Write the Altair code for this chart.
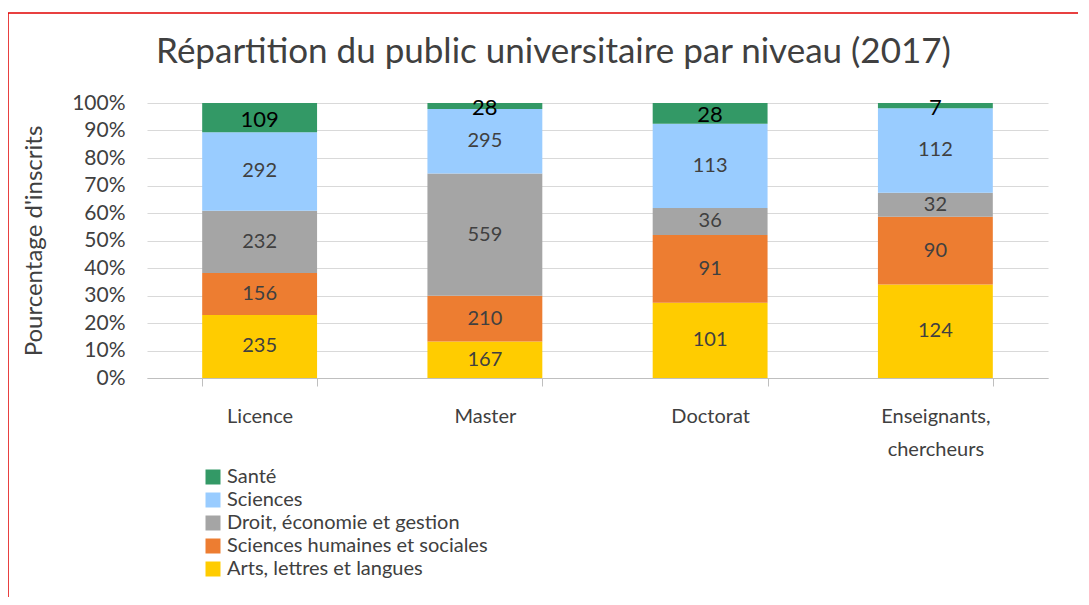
import altair as alt
import pandas as pd

niveaux = ["Licence", "Master", "Doctorat", "Enseignants, chercheurs"]
categories = ["Arts, lettres et langues", "Sciences humaines et sociales",
              "Droit, économie et gestion", "Sciences", "Santé"]
arts = [235, 167, 101, 124]
shs = [156, 210, 91, 90]
droit = [232, 559, 36, 32]
sciences = [292, 295, 113, 112]
sante = [109, 28, 28, 7]
y_ticks = [0.0, 0.1, 0.2, 0.3, 0.4, 0.5, 0.6, 0.7, 0.8, 0.9, 1.0]

series = [arts, shs, droit, sciences, sante]
rows = []
for ci, (cat, vals) in enumerate(zip(categories, series)):
    for ni, niv in enumerate(niveaux):
        rows.append({"niveau": niv, "cat": cat, "value": vals[ni], "ord": ci})
df = pd.DataFrame(rows)

legend_order = ["Santé", "Sciences", "Droit, économie et gestion",
                "Sciences humaines et sociales", "Arts, lettres et langues"]
colors = ["#339966", "#99CCFF", "#A5A5A5", "#ED7D31", "#FFCC00"]

FONT = "Lato"
TXT = "#404040"

x_axis = alt.Axis(labelAngle=0, labelFontSize=20, labelColor=TXT, labelFont=FONT,
                  labelPadding=20, labelLineHeight=33, tickBand="extent",
                  tickSize=8, tickColor="#BFBFBF", domainColor="#BFBFBF",
                  labelExpr="datum.value == 'Enseignants, chercheurs' ? ['Enseignants,', 'chercheurs'] : datum.value")
x_scale = alt.Scale(paddingInner=0.49, paddingOuter=0.245)

y_axis = alt.Axis(format=".0%", values=y_ticks, labelOverlap=False,
                  domain=False, ticks=False, gridColor="#D9D9D9",
                  labelFontSize=21, labelColor=TXT, labelFont=FONT, labelPadding=22,
                  titleFontSize=24, titleFont=FONT, titleColor=TXT,
                  titleFontWeight="normal", titlePadding=25)
y_scale = alt.Scale(domain=[0, 1])
Y_TITLE = "Pourcentage d'inscrits"

base = alt.Chart(df)

bars = base.mark_bar().encode(
    x=alt.X("niveau:N", sort=niveaux, title=None, scale=x_scale, axis=x_axis),
    y=alt.Y("value:Q", stack="normalize", title=Y_TITLE, scale=y_scale, axis=y_axis),
    color=alt.Color("cat:N", scale=alt.Scale(domain=legend_order, range=colors),
                    legend=alt.Legend(title=None, orient="none", legendX=56, legendY=364,
                                      symbolType="square", symbolSize=225,
                                      symbolStrokeWidth=0, labelFontSize=20,
                                      labelFont=FONT, labelColor=TXT, rowPadding=3,
                                      labelOffset=4, labelLimit=0)),
    order=alt.Order("ord:Q"),
)

labelled = base.transform_joinaggregate(
    total="sum(value)", groupby=["niveau"]
).transform_calculate(
    frac="datum.value / datum.total"
).transform_window(
    cum="sum(frac)", sort=[alt.SortField("ord")], groupby=["niveau"], frame=[None, 0]
).transform_calculate(
    mid="datum.cum - datum.frac / 2"
)

lx = alt.X("niveau:N", sort=niveaux, title=None, scale=x_scale, axis=x_axis)
ly = alt.Y("mid:Q", title=Y_TITLE, scale=y_scale, axis=y_axis)

labels = labelled.transform_filter(alt.datum.cat != "Santé").mark_text(
    fontSize=20, font=FONT, color=TXT
).encode(x=lx, y=ly, text="value:Q")

labels_sante = labelled.transform_filter(alt.datum.cat == "Santé").mark_text(
    fontSize=22, font=FONT, color="#000000", dy=2
).encode(x=lx, y=ly, text="value:Q")

one = alt.Chart(pd.DataFrame({"a": [0]}))
top_line = one.mark_rule(color="#E00000", strokeWidth=1.5).encode(
    x=alt.value(-139), x2=alt.value(960), y=alt.value(-90))
left_line = one.mark_rule(color="#E00000", strokeWidth=1.5).encode(
    x=alt.value(-139), y=alt.value(-90), y2=alt.value(510))

chart = alt.layer(bars, labels, labels_sante, top_line, left_line).properties(
    width=901, height=275,
    background="white",
    title=alt.Title("Répartition du public universitaire par niveau (2017)",
                    fontSize=35, font=FONT, color=TXT, fontWeight="normal",
                    anchor="middle", dx=-44, offset=0, baseline="alphabetic", dy=86),
    autosize=alt.AutoSizeParams(type="none"),
    padding={"left": 139, "top": 95, "right": 30, "bottom": 219},
).configure_view(stroke=None)

chart.save("out.html", embed_options={"renderer": "svg", "actions": False})
